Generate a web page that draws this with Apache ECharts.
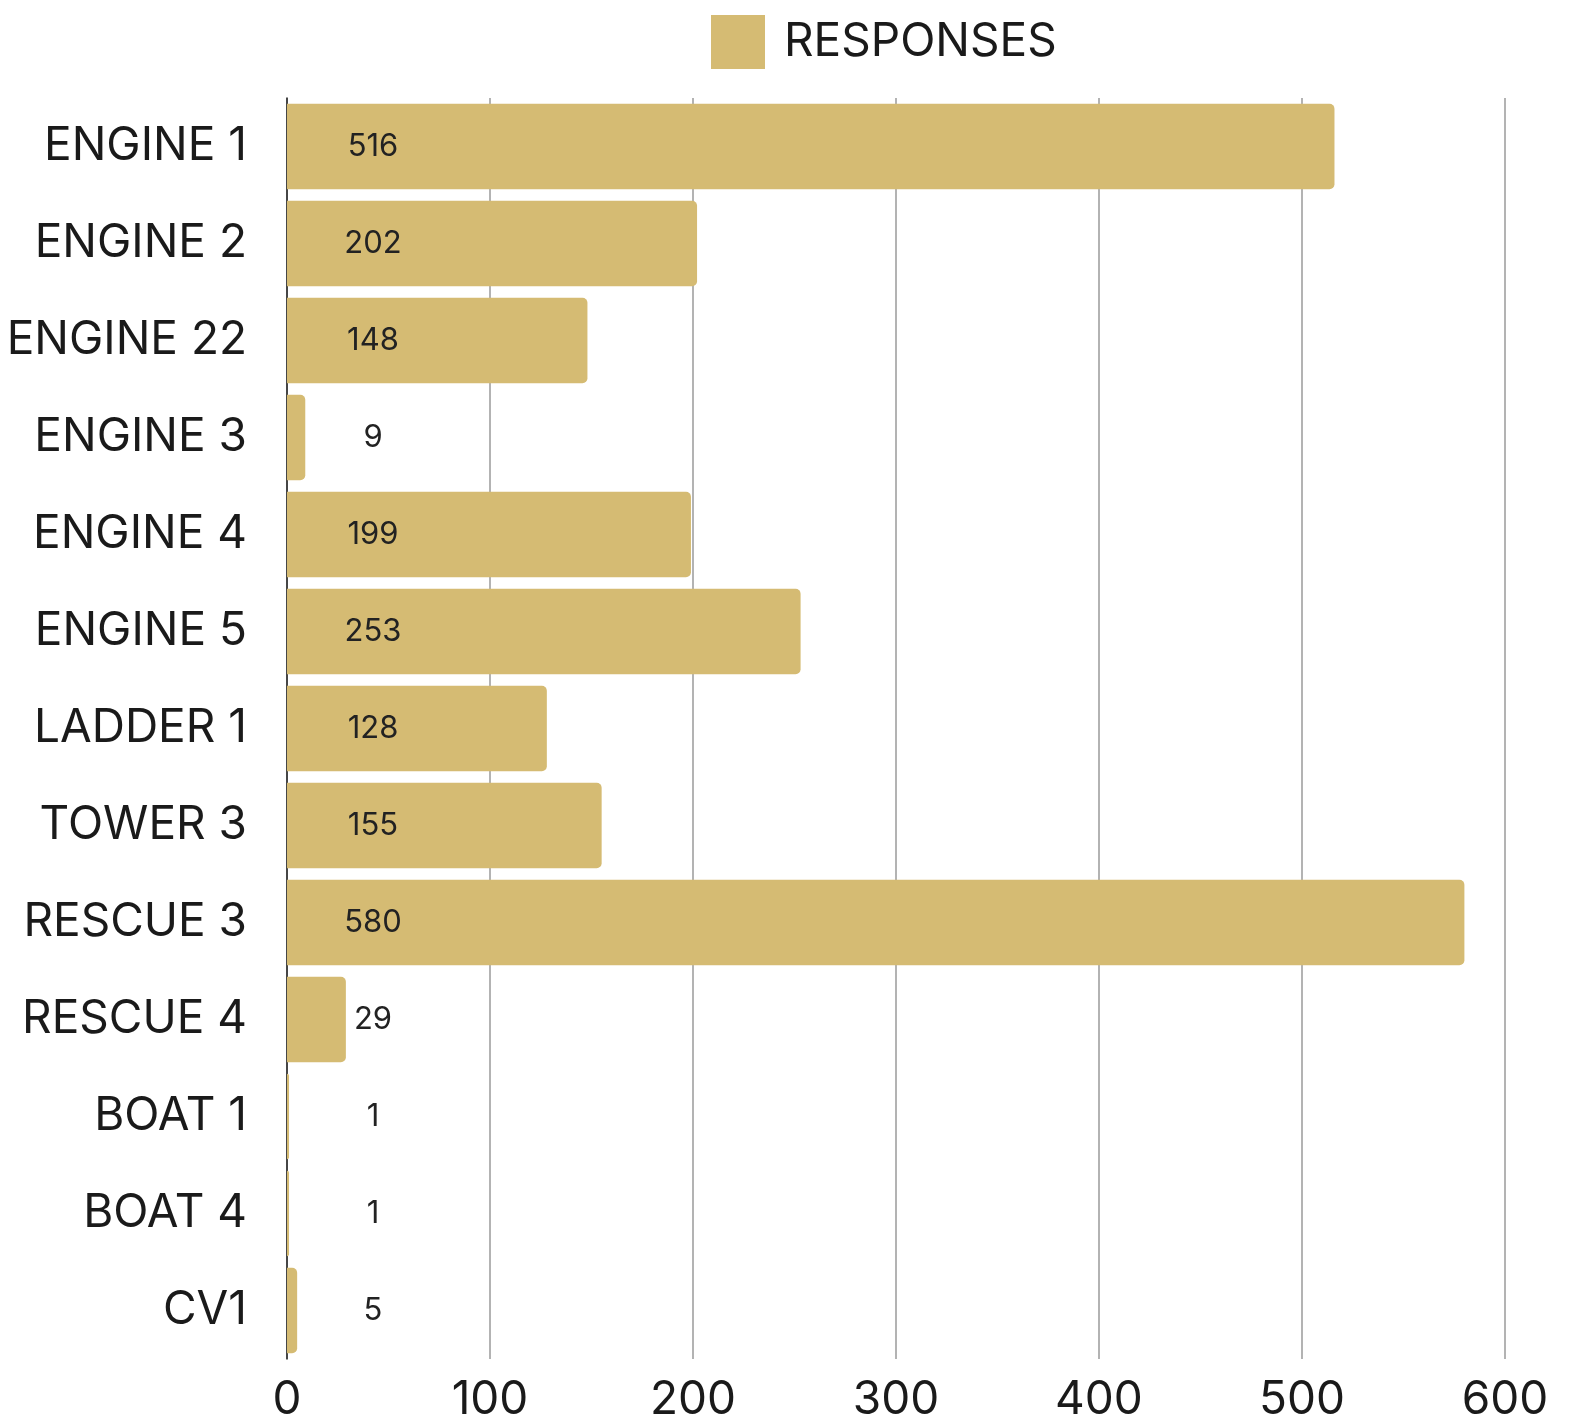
<!DOCTYPE html>
<html>
<head>
<meta charset="utf-8">
<script src="https://cdn.jsdelivr.net/npm/echarts@6/dist/echarts.min.js"></script>
<style>
  html, body { margin: 0; padding: 0; background: #fff; }
  #chart { width: 1570px; height: 1423px; }
</style>
</head>
<body>
<div id="chart"></div>
<script>
// units, top to bottom
const units = ['ENGINE 1', 'ENGINE 2', 'ENGINE 22', 'ENGINE 3', 'ENGINE 4', 'ENGINE 5', 'LADDER 1',
  'TOWER 3', 'RESCUE 3', 'RESCUE 4', 'BOAT 1', 'BOAT 4', 'CV1'];
const responses = [516, 202, 148, 9, 199, 253, 128, 155, 580, 29, 1, 1, 5];
const xTicks = [0, 100, 200, 300, 400, 500, 600];

const myChart = echarts.init(document.getElementById('chart'));

const option = {
  animation: false,
  textStyle: { fontFamily: 'Inter, Roboto, sans-serif' },
  legend: {
    data: ['RESPONSES'],
    left: 706,
    top: 10,
    itemWidth: 54,
    itemHeight: 54,
    icon: 'rect',
    textStyle: {
      color: '#1a1a1a',
      fontSize: 46,
      padding: [0, 0, 0, 14],
    },
  },
  grid: {
    left: 287,
    right: 65,
    top: 98,
    bottom: 59,
  },
  xAxis: {
    type: 'value',
    min: xTicks[0],
    max: xTicks[xTicks.length - 1],
    interval: 100,
    axisLine: { show: false },
    axisTick: { show: false },
    splitLine: { lineStyle: { color: '#9a9a9a', width: 1.5 } },
    axisLabel: {
      color: '#1a1a1a',
      fontSize: 46,
      margin: 18,
    },
  },
  yAxis: {
    type: 'category',
    data: units,
    inverse: true,
    axisLine: { show: true, lineStyle: { color: '#222', width: 1.5 } },
    axisTick: { show: false },
    axisLabel: {
      color: '#1a1a1a',
      fontSize: 46,
      margin: 40,
    },
  },
  series: [
    {
      name: 'RESPONSES',
      type: 'bar',
      data: responses,
      barCategoryGap: '12%',
      itemStyle: {
        color: '#d5bb73',
        borderRadius: [0, 5, 5, 0],
      },
      label: {
        show: true,
        position: [86, '50%'],
        align: 'center',
        verticalAlign: 'middle',
        color: '#222',
        fontSize: 31,
      },
    },
  ],
};

myChart.setOption(option);
</script>
</body>
</html>
